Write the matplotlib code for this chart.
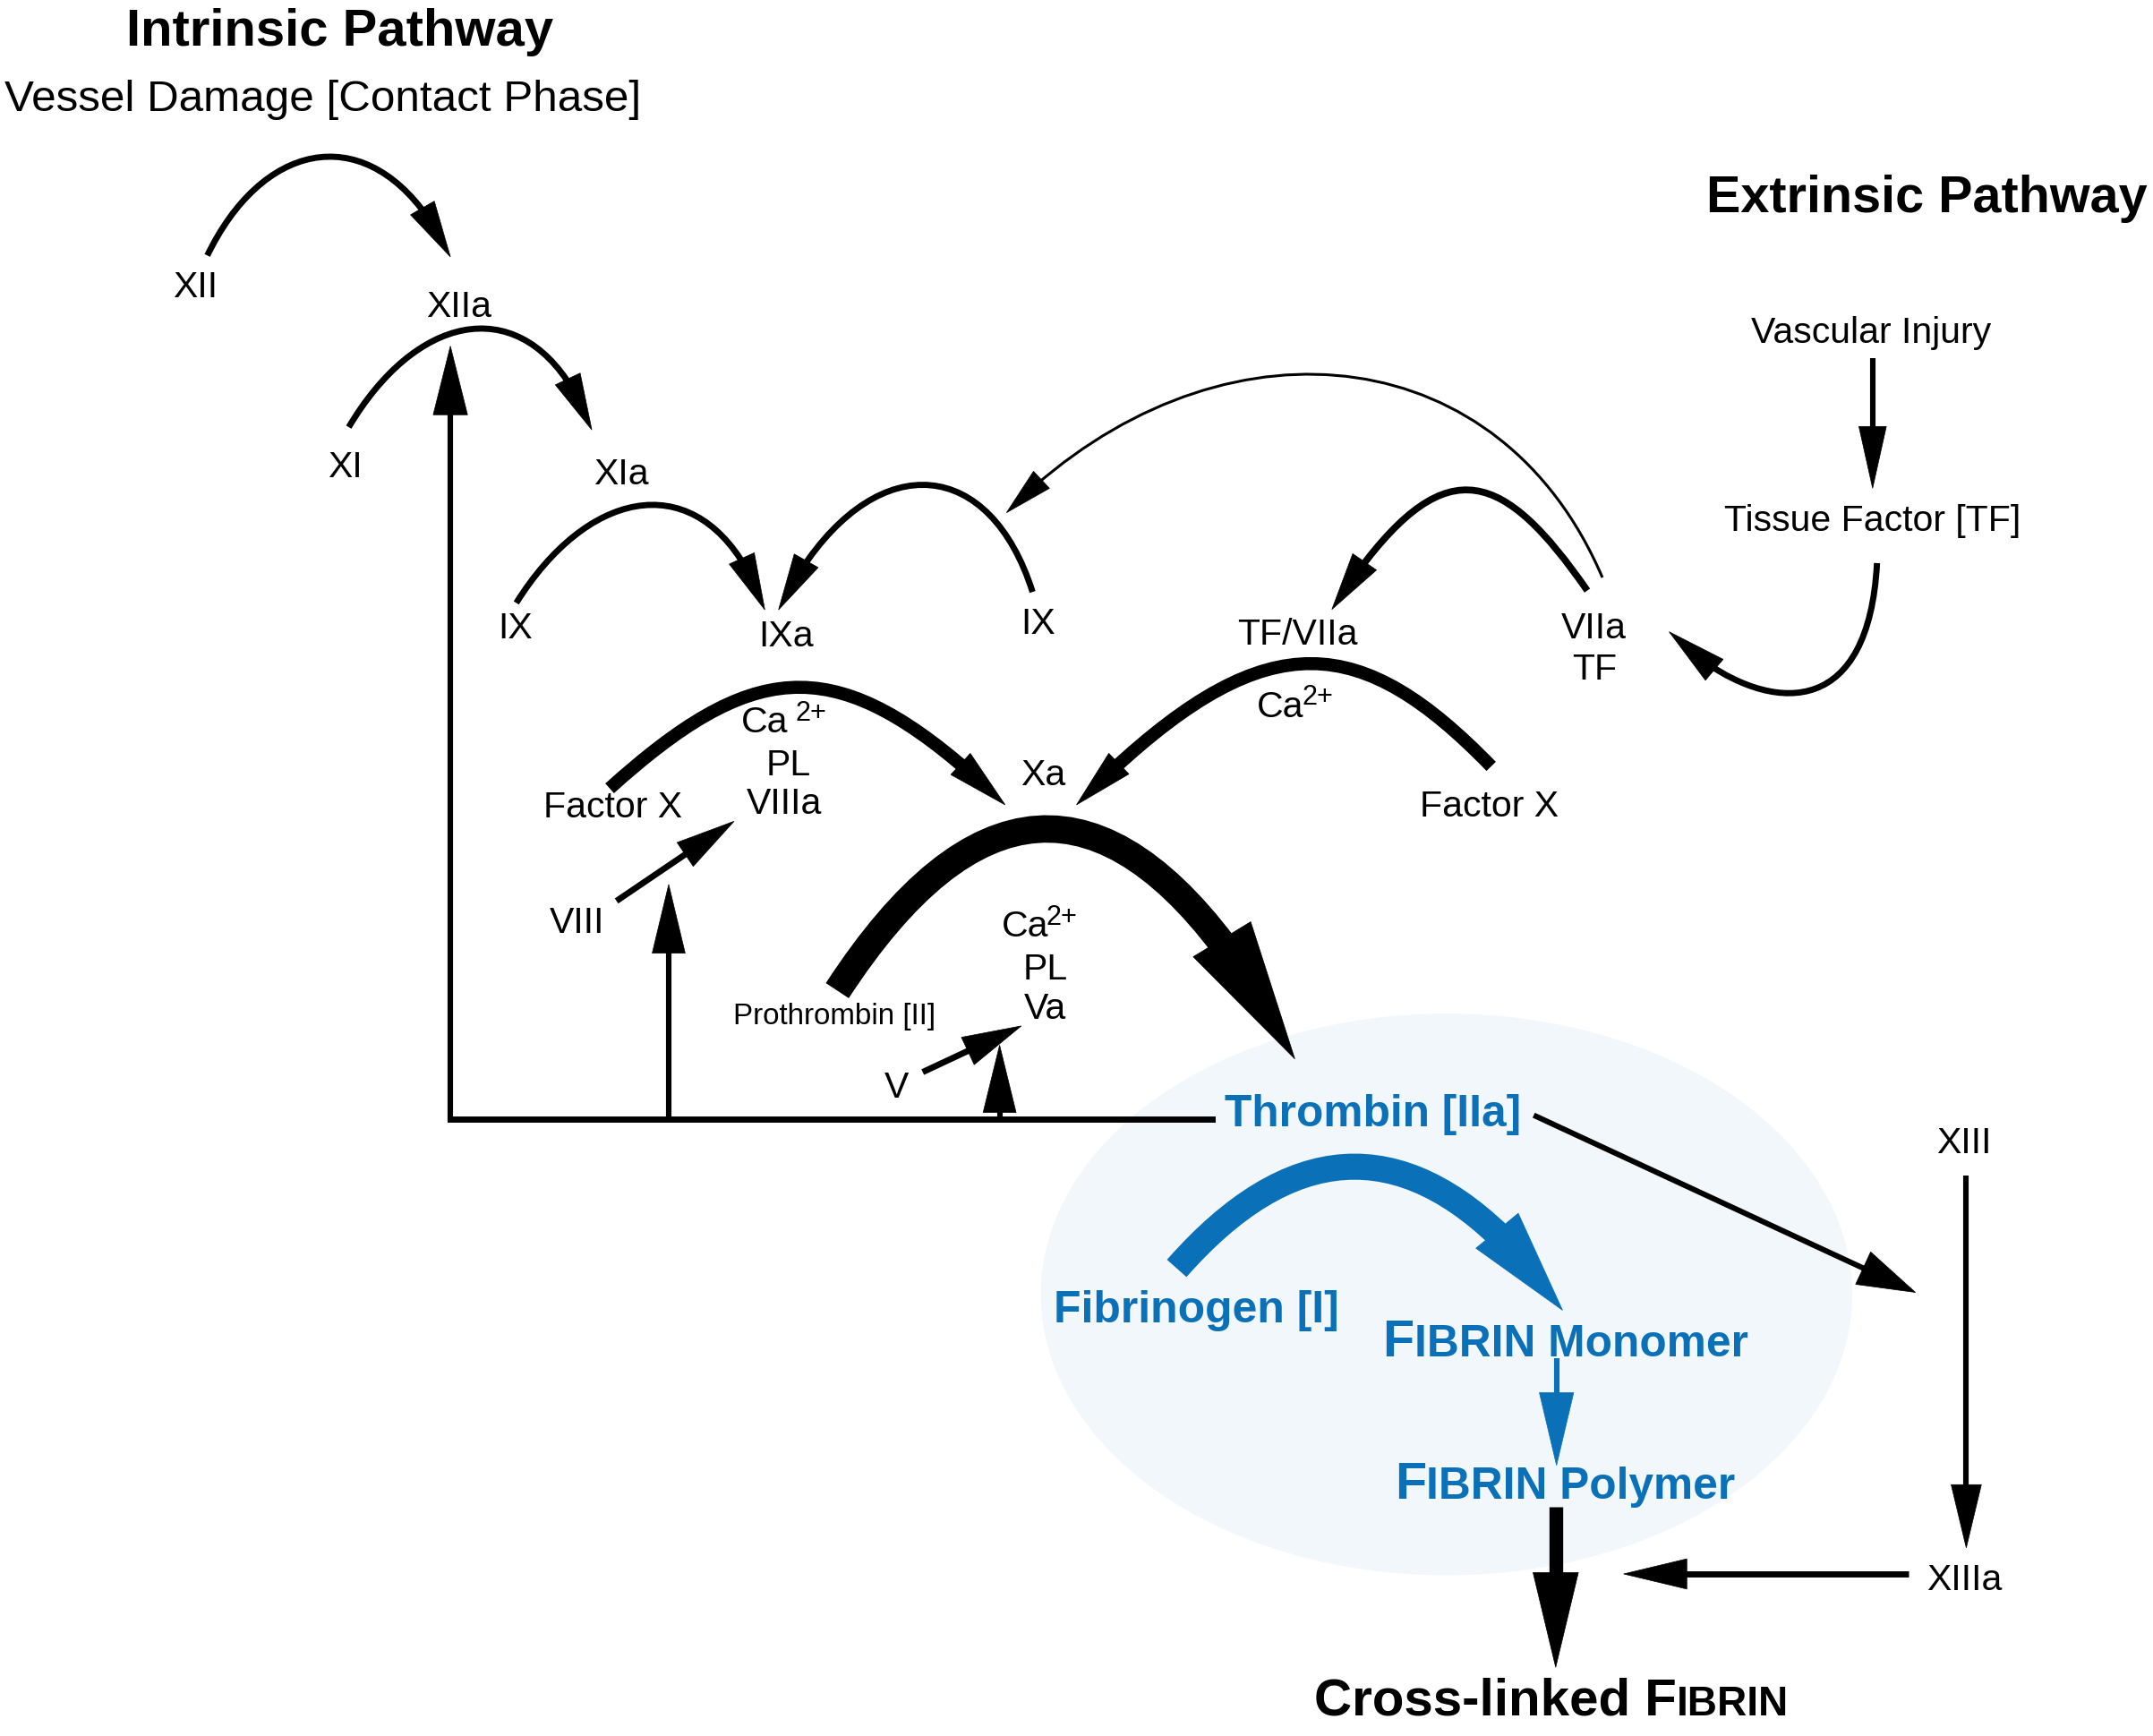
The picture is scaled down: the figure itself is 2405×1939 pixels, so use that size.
import numpy as np
import matplotlib
matplotlib.use("Agg")
import matplotlib.pyplot as plt
from matplotlib.patches import Ellipse, Polygon, PathPatch
from matplotlib.path import Path
from matplotlib.bezier import BezierSegment, split_de_casteljau

plt.rcParams['font.family'] = ['Liberation Sans', 'DejaVu Sans']

# diagram units = pixels of the reference scaled to 1568 wide
W, H = 1568, 1264
FIG_W, FIG_H = 2405, 1939
PX = FIG_W / W            # output pixels per diagram unit
PT = PX * 72 / 100        # points per diagram unit

BLACK = 'black'
BLUE = '#0a70b8'
HALO = '#f2f7fc'

# plain labels: text, x, y (middle of the capitals)
node_labels = ["XII", "XIIa", "XI", "XIa", "IX", "IXa", "IX", "TF/VIIa", "VIIa", "TF",
               "Vascular Injury", "Tissue Factor [TF]", "Factor X", "Factor X", "Xa",
               "VIII", "PL", "VIIIa", "PL", "Va", "V", "XIII", "XIIIa"]
node_x = [142, 334, 251, 452.5, 375, 572.7, 756, 945, 1161, 1161,
          1362.6, 1363.5, 446.5, 1084.5, 760,
          420.5, 574, 571, 761.5, 761, 653, 1430.6, 1430.6]
node_y = [207, 221, 338, 343, 455, 461, 452, 460, 455, 485,
          240, 377, 585.6, 585, 562,
          669.5, 554.8, 583, 703.4, 732, 789.6, 830, 1148.3]
NODE_SIZE = 26.7

# calcium ions: right edge of "Ca", left edge of the "2+" superscript
ca_right = [574, 764, 949.6]
ca_y = [523.6, 672, 512.5]
sup_left = [579, 762, 948]
sup_y = [517.5, 666, 506]
SUP_SIZE = 20

# headings and other styled labels
title_text = ["Intrinsic Pathway", "Vessel Damage [Contact Phase]", "Extrinsic Pathway",
              "Prothrombin [II]", "Thrombin [IIa]", "Fibrinogen [I]"]
title_x = [247.5, 235, 1403, 608, 999.7, 871]
title_y = [20, 69.5, 141, 738, 808.7, 951]
title_size = [37.8, 32.2, 37.5, 21.6, 32.4, 32.5]
title_bold = [True, False, True, False, True, True]
title_color = [BLACK, BLACK, BLACK, BLACK, BLUE, BLUE]

# small-caps labels: pieces (text, size), centre x, baseline, colour
fibrin_pieces = [[("F", 37.5), ("IBRIN Monomer", 32.4)],
                 [("F", 37.5), ("IBRIN Polymer", 32.4)],
                 [("Cross-linked F", 38), ("IBRIN", 30)]]
fibrin_x = [1140, 1140, 1130]
fibrin_base = [987.6, 1091.3, 1249]
fibrin_color = [BLUE, BLUE, BLACK]

# curved reactions: cubic control points, line width, head length, head width, colour
arc_points = [
    [(151, 186), (195, 95), (280, 85), (328, 187)],          # XII -> XIIa
    [(254, 311), (308, 220), (393, 210), (431, 313)],        # XI -> XIa
    [(376, 439), (433, 348), (520, 338), (557, 444)],        # IX -> IXa
    [(752, 431), (718, 324), (625, 326), (567, 444)],        # IX -> IXa (right)
    [(1156, 430), (1090, 335), (1047, 325), (970, 443.7)],   # VIIa -> TF/VIIa
    [(1167, 420.5), (1090, 240), (880, 225), (733, 373.3)],  # VIIa -> IX (thin)
    [(1367, 410), (1360, 540), (1270, 515), (1215.6, 460)],  # TF -> VIIa
    [(444, 574), (555, 474), (615, 474), (732, 586)],        # Factor X -> Xa
    [(1086, 558), (985, 454), (915, 454), (784, 586)],       # Factor X -> Xa (right)
    [(609.8, 721.3), (722, 549), (833, 566), (943, 771)],    # Prothrombin -> Thrombin
    [(857, 923.5), (952, 815.5), (1046, 825.7), (1138, 954)],  # Fibrinogen -> Fibrin
]
arc_width = [4.5, 4.5, 4.5, 4.5, 5, 2, 4.5, 9.5, 9.5, 20, 19]
arc_head_len = [41, 41, 41, 41, 42, 35, 43, 44, 43, 102, 75]
arc_head_w = [20, 20, 20, 20, 21, 17, 20, 21, 21, 49, 40]
arc_color = [BLACK] * 10 + [BLUE]

# straight arrows: start, tip, line width, head length, head width, colour
arrow_start = [(1363.8, 261), (449, 656), (672, 780.6), (328, 817), (487, 815), (728, 815),
               (1117, 812), (1432, 856), (1390, 1146), (1133.6, 989), (1133, 1097)]
arrow_tip = [(1363.8, 355.5), (534.6, 598), (743.8, 747), (328, 252), (487, 644), (728, 761),
             (1395, 941), (1432, 1127), (1182.5, 1146), (1133.6, 1067), (1133, 1214)]
arrow_width = [4, 4.5, 4.5, 4, 4, 4, 4, 4, 4.5, 4, 10]
arrow_head_len = [45, 43, 43, 50, 50, 49, 42, 46, 46, 53, 69]
arrow_head_w = [20, 21, 22, 25, 24, 24, 26, 22, 22, 25, 33]
arrow_color = [BLACK] * 9 + [BLUE, BLACK]

# thrombin feedback line
base_line = [(328, 815), (883, 815)]

# light halo round the fibrin steps
halo_centre = (1053.5, 942.5)
halo_size = (591, 409)

fig = plt.figure(figsize=(FIG_W / 100, FIG_H / 100), dpi=100)
ax = fig.add_axes([0, 0, 1, 1])
ax.set_xlim(0, W)
ax.set_ylim(H, 0)
ax.axis('off')


def draw_head(tip, back, length, width, color):
    tip = np.asarray(tip, float)
    d = tip - np.asarray(back, float)
    d /= np.hypot(*d)
    n = np.array([-d[1], d[0]])
    base = tip - d * length
    ax.add_patch(Polygon([tip, base + n * width / 2, base - n * width / 2], closed=True,
                         fc=color, ec=color, lw=0.5, zorder=3))


def draw_arc(pts, lw, hl, hw, color):
    pts = np.asarray(pts, float)
    seg = BezierSegment(pts)
    ts = np.linspace(0, 1, 801)
    dist = np.hypot(*(seg(ts) - pts[-1]).T)
    t_cut = ts[dist > 0.8 * hl][-1]
    left, _ = split_de_casteljau(pts, t_cut)
    path = Path(left, [Path.MOVETO, Path.CURVE4, Path.CURVE4, Path.CURVE4])
    ax.add_patch(PathPatch(path, fc='none', ec=color, lw=lw * PT, capstyle='butt', zorder=2))
    draw_head(pts[-1], left[-1], hl, hw, color)


def draw_arrow(p0, p1, lw, hl, hw, color):
    p0, p1 = np.asarray(p0, float), np.asarray(p1, float)
    d = (p1 - p0) / np.hypot(*(p1 - p0))
    end = p1 - d * hl * 0.8
    ax.plot([p0[0], end[0]], [p0[1], end[1]], color=color, lw=lw * PT,
            solid_capstyle='butt', zorder=2)
    draw_head(p1, p0, hl, hw, color)


def label(s, x, y, size, bold=False, color=BLACK, ha='center'):
    ax.text(x, y + 0.358 * size, s, ha=ha, va='baseline', fontsize=size * PT,
            fontweight='bold' if bold else 'normal', color=color, zorder=4)


ax.add_patch(Ellipse(halo_centre, *halo_size, fc=HALO, ec='none', zorder=0))

for pts, lw, hl, hw, c in zip(arc_points, arc_width, arc_head_len, arc_head_w, arc_color):
    draw_arc(pts, lw, hl, hw, c)

for p0, p1, lw, hl, hw, c in zip(arrow_start, arrow_tip, arrow_width, arrow_head_len,
                                 arrow_head_w, arrow_color):
    draw_arrow(p0, p1, lw, hl, hw, c)

ax.plot([p[0] for p in base_line], [p[1] for p in base_line], color=BLACK,
        lw=4.5 * PT, solid_capstyle='projecting', zorder=2)

for s, x, y in zip(node_labels, node_x, node_y):
    label(s, x, y, NODE_SIZE)
for x, y in zip(ca_right, ca_y):
    label("Ca", x, y, NODE_SIZE, ha='right')
for x, y in zip(sup_left, sup_y):
    label("2+", x, y, SUP_SIZE, ha='left')
for s, x, y, size, b, c in zip(title_text, title_x, title_y, title_size, title_bold, title_color):
    label(s, x, y, size, b, c)

renderer = fig.canvas.get_renderer()
for pieces, xc, yb, c in zip(fibrin_pieces, fibrin_x, fibrin_base, fibrin_color):
    texts = [ax.text(0, yb, s, ha='left', va='baseline', fontsize=size * PT,
                     fontweight='bold', color=c, zorder=4) for s, size in pieces]
    widths = [t.get_window_extent(renderer=renderer).width / PX for t in texts]
    x = xc - sum(widths) / 2
    for t, w in zip(texts, widths):
        t.set_x(x)
        x += w

fig.savefig("out.png", dpi=100)
